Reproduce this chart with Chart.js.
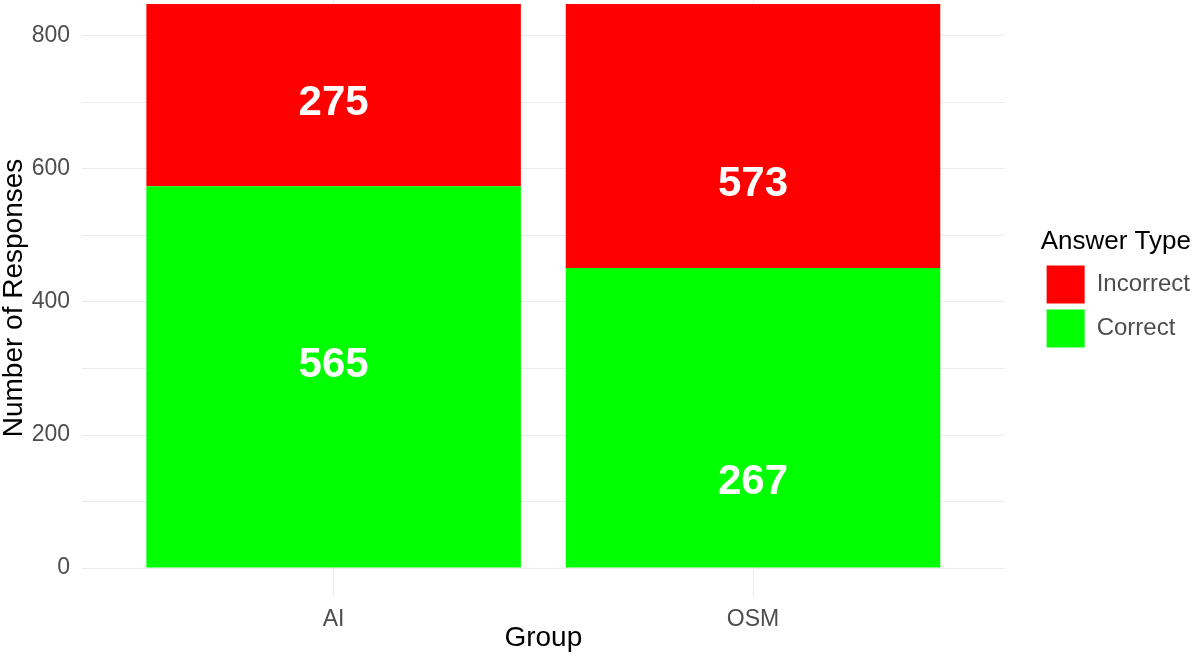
<!DOCTYPE html>
<html>
<head>
<meta charset="utf-8">
<title>Answer Type by Group</title>
<script src="https://cdn.jsdelivr.net/npm/chart.js@4.4.1/dist/chart.umd.min.js"></script>
<style>
    body { margin: 0; background: #ffffff; }
    #grafico { display: block; }
</style>
</head>
<body>
<canvas id="grafico" width="1200" height="658"></canvas>
<script>
// datos
const grupos = ['AI', 'OSM'];
const correctas = [574, 451];      // altura de la barra verde
const incorrectas = [274, 397];    // altura de la barra roja (encima)
// etiquetas que aparecen sobre las barras y su altura en el eje
const textoCorrectas = ['565', '267'];
const textoIncorrectas = ['275', '573'];
const posCorrectas = [305, 128];
const posIncorrectas = [699, 576];
// eje y
const yTicks = [0, 100, 200, 300, 400, 500, 600, 700, 800];
const yTickLabels = ['0', '', '200', '', '400', '', '600', '', '800'];

const gris = '#4D4D4D';
const fuente = 'Liberation Sans, Arial, sans-serif';

// escribe los numeros blancos encima de cada tramo
const etiquetasBarras = {
    id: 'etiquetasBarras',
    afterDatasetsDraw(chart) {
        const ctx = chart.ctx;
        const x = chart.scales.x;
        const y = chart.scales.y;
        ctx.save();
        ctx.fillStyle = '#ffffff';
        ctx.font = 'bold 42px ' + fuente;
        ctx.textAlign = 'center';
        ctx.textBaseline = 'middle';
        grupos.forEach((g, i) => {
            const px = x.getPixelForValue(i + 1);
            ctx.fillText(textoCorrectas[i], px, y.getPixelForValue(posCorrectas[i]));
            ctx.fillText(textoIncorrectas[i], px, y.getPixelForValue(posIncorrectas[i]));
        });
        ctx.restore();
    }
};

// mueve la leyenda un poco a la derecha y arriba, como en ggplot
const moverLeyenda = {
    id: 'moverLeyenda',
    afterLayout(chart) {
        const l = chart.legend;
        if (!l) return;
        l.left += 36; l.right += 36;
        l.top -= 38; l.bottom -= 38;
    }
};

const datos = {
    datasets: [{
        label: 'Correct',
        data: grupos.map((g, i) => ({ x: i + 1, y: correctas[i] })),
        backgroundColor: '#00FF00'
    }, {
        label: 'Incorrect',
        data: grupos.map((g, i) => ({ x: i + 1, y: incorrectas[i] })),
        backgroundColor: '#FF0000'
    }]
};

const config = {
    type: 'bar',
    data: datos,
    plugins: [etiquetasBarras, moverLeyenda],
    options: {
        responsive: false,
        animation: false,
        layout: { padding: { left: 0, right: 36, top: 0, bottom: 0 } },
        datasets: {
            bar: { categoryPercentage: 1, barPercentage: 0.893, borderWidth: 0 }
        },
        plugins: {
            tooltip: { enabled: false },
            legend: {
                position: 'right',
                reverse: true,
                title: {
                    display: true,
                    text: 'Answer Type',
                    position: 'start',
                    color: '#000000',
                    font: { family: fuente, size: 26 }
                },
                labels: {
                    boxWidth: 38,
                    boxHeight: 38,
                    padding: 6,
                    color: gris,
                    font: { family: fuente, size: 24 }
                }
            }
        },
        scales: {
            x: {
                type: 'linear',
                stacked: true,
                offset: false,
                min: 0.4,
                max: 2.6,
                afterBuildTicks: (s) => { s.ticks = grupos.map((g, i) => ({ value: i + 1 })); },
                afterFit: (s) => { s.height = 62; s.paddingLeft = 0; s.paddingRight = 0; },
                border: { display: false },
                grid: { color: '#EBEBEB', lineWidth: 1, drawTicks: false, offset: false },
                ticks: {
                    color: gris,
                    padding: 10,
                    font: { family: fuente, size: 23 },
                    callback: (v) => grupos[v - 1]
                },
                title: {
                    display: true,
                    text: 'Group',
                    color: '#000000',
                    padding: { top: 0, bottom: 3 },
                    font: { family: fuente, size: 28 }
                }
            },
            y: {
                stacked: true,
                min: -42,
                max: 854,
                afterBuildTicks: (s) => { s.ticks = yTicks.map(v => ({ value: v })); },
                afterFit: (s) => { s.width = 82; s.paddingTop = 0; s.paddingBottom = 0; },
                border: { display: false },
                grid: { color: '#EBEBEB', lineWidth: 1, drawTicks: false },
                ticks: {
                    color: gris,
                    padding: 12,
                    font: { family: fuente, size: 23 },
                    callback: (v) => yTickLabels[yTicks.indexOf(v)]
                },
                title: {
                    display: true,
                    text: 'Number of Responses',
                    color: '#000000',
                    padding: { top: 0, bottom: 0 },
                    font: { family: fuente, size: 28, lineHeight: 1 }
                }
            }
        }
    }
};

new Chart(document.getElementById('grafico').getContext('2d'), config);
</script>
</body>
</html>
